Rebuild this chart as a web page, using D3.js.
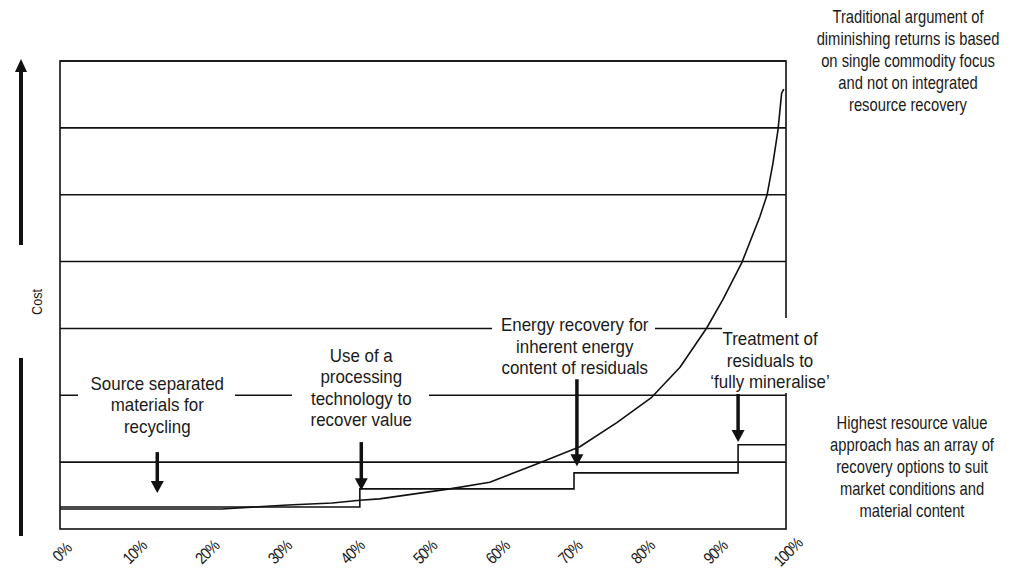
<!DOCTYPE html>
<html>
<head>
<meta charset="utf-8">
<script src="https://cdn.jsdelivr.net/npm/d3@7"></script>
<style>
  body { margin: 0; background: #fff; }
  svg { display: block; }
  text { font-family: "Liberation Sans Narrow", "Arial Narrow", "Liberation Sans", sans-serif; fill: #1a1a1a; }
</style>
</head>
<body>
<svg id="chart"></svg>
<script>
// x axis: share of material recovered (%)
const xTickValues = [0, 10, 20, 30, 40, 50, 60, 70, 80, 90, 100]
const xTickLabels = ['0%', '10%', '20%', '30%', '40%', '50%', '60%', '70%', '80%', '90%', '100%']
const gridLevels = [1, 2, 3, 4, 5, 6, 7]

// single-commodity cost curve (diminishing returns)
const curveShare = [0, 22.3, 31.4, 37.5, 41.3, 44, 53.7, 59.2, 66.1, 71.6, 76.7, 81.5, 85.4, 89.1, 91.3, 93.9, 96.4, 97.4, 98.2, 98.9, 99.2, 99.4, 99.7]
const curveCost = [0.30, 0.30, 0.36, 0.39, 0.43, 0.45, 0.60, 0.70, 0.99, 1.23, 1.59, 1.97, 2.42, 3.01, 3.43, 3.98, 4.67, 5.00, 5.47, 5.97, 6.30, 6.52, 6.58]

// integrated resource recovery: stepped cost
const stepShare = [0, 41.3, 70.8, 93.4, 100]
const stepCost = [0.33, 0.60, 0.84, 1.26, 1.26]

// annotations
const noteLines = [
  ['Source separated', 'materials for', 'recycling'],
  ['Use of a', 'processing', 'technology to', 'recover value'],
  ['Energy recovery for', 'inherent energy', 'content of residuals'],
  ['Treatment of', 'residuals to', '\u2018fully mineralise\u2019'],
]
const noteShare = [13.4, 41.5, 70.9, 97.8]
const noteCost = [2.08, 2.50, 2.96, 2.75]
const arrowShare = [13.4, 41.5, 71.2, 93.4]
const arrowFrom = [1.15, 1.30, 2.24, 2.02]
const arrowTo = [0.54, 0.58, 0.94, 1.30]

const sideTop = ['Traditional argument of', 'diminishing returns is based', 'on single commodity focus', 'and not on integrated', 'resource recovery']
const sideBottom = ['Highest resource value', 'approach has an array of', 'recovery options to suit', 'market conditions and', 'material content']

const width = 1033
const height = 572
const margin = { top: 61, right: 247, bottom: 43, left: 60 }
const innerW = width - margin.left - margin.right
const innerH = height - margin.top - margin.bottom

// white boxes that interrupt the grid behind each note (pixel, relative to plot)
const noteBoxes = [
  { x0: 18, x1: 175, y0: 311, y1: 380 },
  { x0: 232, x1: 369, y0: 282, y1: 376 },
  { x0: 432, x1: 595, y0: 251, y1: 319 },
  { x0: 662, x1: 760, y0: 257, y1: 332 },
]

const svg = d3.select('#chart').attr('width', width).attr('height', height)
const g = svg.append('g').attr('transform', `translate(${margin.left},${margin.top})`)

const x = d3.scaleLinear().domain([0, 100]).range([0, innerW])
const y = d3.scaleLinear().domain([0, 7]).range([innerH, 0])

const ink = '#111'

// plot frame + grid
g.append('rect')
  .attr('width', innerW).attr('height', innerH)
  .attr('fill', 'none').attr('stroke', ink).attr('stroke-width', 1.6)

g.selectAll('line.grid')
  .data(gridLevels)
  .join('line')
  .attr('class', 'grid')
  .attr('x1', 0).attr('x2', innerW)
  .attr('y1', (d) => y(d)).attr('y2', (d) => y(d))
  .attr('stroke', ink).attr('stroke-width', 1.6)

// x tick labels, rotated
g.selectAll('text.tick')
  .data(xTickValues)
  .join('text')
  .attr('class', 'tick')
  .attr('text-anchor', 'middle')
  .attr('font-size', 16.5)
  .attr('letter-spacing', -1)
  .attr('transform', (d) => `translate(${x(d) + 6},${innerH + 27}) rotate(-45) scale(0.86,1)`)
  .text((d, i) => xTickLabels[i])

// step line
const steps = stepShare.map((s, i) => [s, stepCost[i]])
g.append('path')
  .datum(steps)
  .attr('fill', 'none').attr('stroke', ink).attr('stroke-width', 1.6)
  .attr('d', d3.line().x((d) => x(d[0])).y((d) => y(d[1])).curve(d3.curveStepAfter))

// cost curve
const curvePts = curveShare.map((s, i) => [s, curveCost[i]])
g.append('path')
  .datum(curvePts)
  .attr('fill', 'none').attr('stroke', ink).attr('stroke-width', 1.6)
  .attr('stroke-linejoin', 'round')
  .attr('d', d3.line().x((d) => x(d[0])).y((d) => y(d[1])))

// note boxes
g.selectAll('rect.notebox')
  .data(noteBoxes)
  .join('rect')
  .attr('class', 'notebox')
  .attr('x', (d) => d.x0).attr('y', (d) => d.y0)
  .attr('width', (d) => d.x1 - d.x0).attr('height', (d) => d.y1 - d.y0)
  .attr('fill', '#fff')

// multi-line centred text, squeezed horizontally to mimic the narrow face
function block(sel, lines, cx, top, size, lead, sx) {
  const t = sel.append('text')
    .attr('text-anchor', 'middle')
    .attr('font-size', size)
    .attr('transform', `translate(${cx},${top}) scale(${sx},1)`)
  t.selectAll('tspan')
    .data(lines)
    .join('tspan')
    .attr('x', 0)
    .attr('y', (d, i) => i * lead)
    .text((d) => d)
}

noteLines.forEach((lines, i) => block(g, lines, x(noteShare[i]), y(noteCost[i]), 18, 21.5, 0.94))

// arrows
const arrows = g.selectAll('g.arrow')
  .data(arrowShare.map((s, i) => ({ s, from: arrowFrom[i], to: arrowTo[i] })))
  .join('g')
  .attr('class', 'arrow')

arrows.append('line')
  .attr('x1', (d) => x(d.s)).attr('x2', (d) => x(d.s))
  .attr('y1', (d) => y(d.from)).attr('y2', (d) => y(d.to) - 10)
  .attr('stroke', ink).attr('stroke-width', 3.5)

arrows.append('path')
  .attr('fill', ink)
  .attr('d', (d) => {
    const ax = x(d.s)
    const ty = y(d.to)
    return `M${ax - 6.5},${ty - 12}L${ax + 6.5},${ty - 12}L${ax},${ty}Z`
  })

// cost axis arrow (left)
const axisArrow = svg.append('g')
axisArrow.append('line')
  .attr('x1', 21).attr('x2', 21).attr('y1', 70).attr('y2', 536)
  .attr('stroke', ink).attr('stroke-width', 4)
axisArrow.append('path')
  .attr('fill', ink)
  .attr('d', 'M15,72L27,72L21,59Z')
axisArrow.append('rect')
  .attr('x', 10).attr('y', 245).attr('width', 20).attr('height', 113)
  .attr('fill', '#fff')
svg.append('text')
  .attr('text-anchor', 'middle')
  .attr('font-size', 14)
  .attr('transform', 'translate(42,302) rotate(-90) scale(0.9,1)')
  .text('Cost')

// side notes
block(svg, sideTop, 908, 23, 18, 22, 0.82)
block(svg, sideBottom, 912, 429, 18, 22, 0.82)
</script>
</body>
</html>
